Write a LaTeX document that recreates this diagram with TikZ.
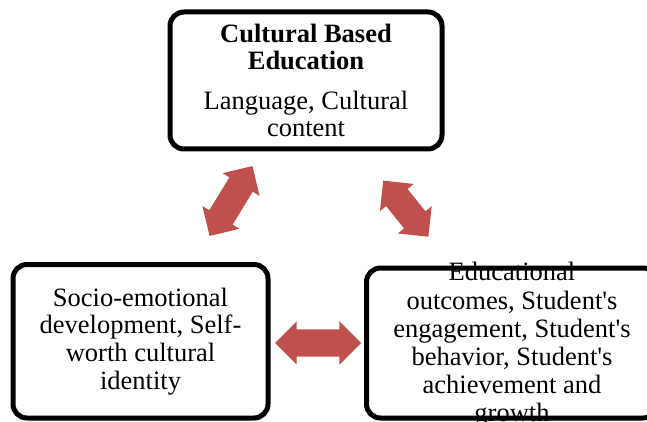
\documentclass[tikz,border=0pt]{standalone}
\usepackage{fontspec}
\setmainfont{Liberation Serif}
\usetikzlibrary{shapes.arrows}
\definecolor{arrowred}{HTML}{C0504D}

\begin{document}
\begin{tikzpicture}[line cap=round,line join=round,x=1pt,y=-1pt,
	box/.style={draw=black,line width=5pt,rounded corners=14pt,inner sep=0pt},
	boxtext/.style={font=\fontsize{26.5}{27.7}\selectfont,align=center,inner sep=0pt},
	biarrow/.style={double arrow,fill=arrowred,draw=none,inner xsep=0pt,inner ysep=13.5pt,double arrow head extend=8pt,minimum height=#1}]
	\useasboundingbox (0,0) rectangle (647,422);
	\clip (0,0) rectangle (647,422);
	\node[box,boxtext,minimum width=272pt,minimum height=137pt] (culture) at (306,80.5) {\textbf{Cultural Based}\\\textbf{Education}\\[11.5pt]Language, Cultural\\content};
	\node[box,boxtext,minimum width=255pt,minimum height=153.5pt] (socio) at (140.5,341.25) {Socio-emotional\\development, Self-\\worth cultural\\identity};
	\node[boxtext,font=\fontsize{26.5}{28.2}\selectfont] (outcometext) at (512,345) {Educational\\outcomes, Student\textquotesingle s\\engagement, Student\textquotesingle s\\behavior, Student\textquotesingle s\\achievement and\\growth};
	\node[box,minimum width=290.5pt,minimum height=150pt] (outcomes) at (511.75,343) {};
	\node[biarrow=82pt,rotate=58.5] (leftlink) at (231,201) {};
	\node[biarrow=72pt,rotate=-51.2] (rightlink) at (405.8,208.7) {};
	\node[biarrow=86pt] (bottomlink) at (318,343) {};
\end{tikzpicture}
\end{document}
